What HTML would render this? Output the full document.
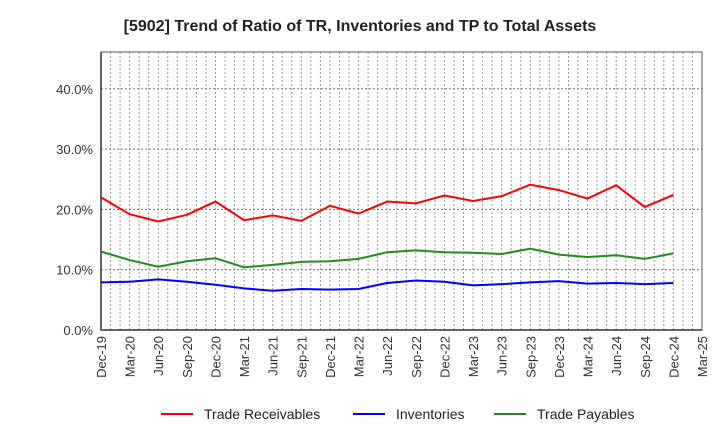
<!DOCTYPE html>
<html><head><meta charset="utf-8"><style>
body{margin:0;background:#fff;font-family:"Liberation Sans",sans-serif;}
svg text{font-family:"Liberation Sans",sans-serif;}
</style></head><body>
<svg id="c" width="720" height="440" xmlns="http://www.w3.org/2000/svg">
<text x="360" y="31" text-anchor="middle" font-size="16" font-weight="bold" fill="#222">[5902]  Trend of Ratio of TR, Inventories and TP to Total Assets</text>
<g id="grid"></g><g id="axes"></g><g id="series"></g>
<g>
<g><line x1="161" y1="414" x2="193" y2="414" stroke="#f00" stroke-width="2"/><text x="204" y="419" font-size="14" fill="#222">Trade Receivables</text></g>
<g><line x1="353" y1="414" x2="385" y2="414" stroke="#00f" stroke-width="2"/><text x="396" y="419" font-size="14" fill="#222">Inventories</text></g>
<g><line x1="494" y1="414" x2="526" y2="414" stroke="#228b22" stroke-width="2"/><text x="537" y="419" font-size="14" fill="#222">Trade Payables</text></g>
</g>
</svg>
<script>
const xLabels=["Dec-19","Mar-20","Jun-20","Sep-20","Dec-20","Mar-21","Jun-21","Sep-21","Dec-21","Mar-22","Jun-22","Sep-22","Dec-22","Mar-23","Jun-23","Sep-23","Dec-23","Mar-24","Jun-24","Sep-24","Dec-24","Mar-25"];
const yTicks=[0,10,20,30,40];
const receivables=[22.0,19.2,18.0,19.1,21.3,18.2,19.0,18.1,20.6,19.3,21.3,21.0,22.3,21.4,22.2,24.1,23.2,21.8,24.0,20.4,22.4];
const inventories=[7.9,8.0,8.4,8.0,7.5,6.9,6.5,6.8,6.7,6.8,7.8,8.2,8.0,7.4,7.6,7.9,8.1,7.7,7.8,7.6,7.8];
const payables=[13.0,11.6,10.5,11.4,11.9,10.4,10.8,11.3,11.4,11.8,12.9,13.2,12.9,12.8,12.6,13.5,12.5,12.1,12.4,11.8,12.7];
const L=101,R=702,T=52,B=330,yMax=46.1,months=63;
const X=m=>L+(R-L)*m/months; // m = months since Dec-19
const Y=v=>B-(B-T)*v/yMax;
const NS="http://www.w3.org/2000/svg";
function mk(p,tag,a){const e=document.createElementNS(NS,tag);for(const k in a)e.setAttribute(k,a[k]);p.appendChild(e);return e;}
const g=document.getElementById('grid'),ax=document.getElementById('axes'),s=document.getElementById('series');
for(let m=1;m<months;m++){const l=mk(g,'line',{x1:X(m),x2:X(m),y1:T,y2:B,stroke:'#999','stroke-dasharray':'2,2','stroke-width':1});

}
yTicks.forEach(v=>{if(v>0){const l=mk(g,'line',{x1:L,x2:R,y1:Y(v),y2:Y(v),stroke:'#777','stroke-dasharray':'2,2','stroke-width':1});

}
const t=mk(ax,'text',{x:L-8,y:Y(v)+5,'text-anchor':'end','font-size':13,fill:'#333'});t.textContent=v.toFixed(1)+'%';

});
const fr=mk(ax,'rect',{x:L,y:T,width:R-L,height:B-T,fill:'none',stroke:'#555','stroke-width':1});


const al=mk(ax,'path',{d:`M${L} ${T}V${B}H${R}`,fill:'none',stroke:'#333','stroke-width':1.5});


xLabels.forEach((lb,i)=>{const x=X(i*3);const t=mk(ax,'text',{x:0,y:0,transform:`translate(${x+5},${B+6}) rotate(-90)`,'text-anchor':'end','font-size':13,fill:'#333'});t.textContent=lb;

});
[[receivables,'#f00','trade-receivables-line'],[inventories,'#00f','inventories-line'],[payables,'#228b22','trade-payables-line']].forEach(([d,c,n])=>{
const p=mk(s,'polyline',{points:d.map((v,i)=>X(i*3)+','+Y(v)).join(' '),fill:'none',stroke:c,'stroke-width':2});

});
</script>
</body></html>
